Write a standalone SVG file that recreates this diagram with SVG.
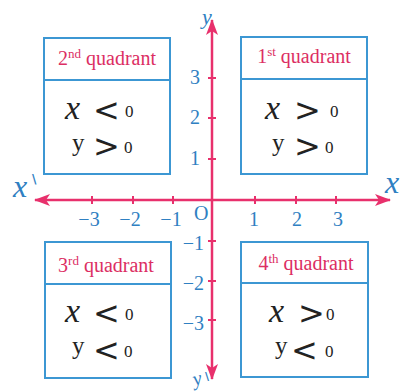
<svg xmlns="http://www.w3.org/2000/svg" width="412" height="391" viewBox="0 0 412 391">
<defs>
<style>
.box{fill:#fff;stroke:#3c97d3;stroke-width:2}
.div{stroke:#3c97d3;stroke-width:2}
.title{font-family:"Liberation Serif",serif;font-size:20px;fill:#dc2e63;text-anchor:middle}
.mx{font-family:"Liberation Serif",serif;font-style:italic;font-size:34px;fill:#222}
.my{font-family:"Liberation Serif",serif;font-size:25px;fill:#222}
.op{font-family:"DejaVu Sans",sans-serif;font-size:32px;fill:#222}
.zero{font-family:"Liberation Serif",serif;font-size:17px;fill:#222}
.num{font-family:"Liberation Serif",serif;font-size:20px;fill:#2f80c2}
.axl{font-family:"Liberation Serif",serif;font-style:italic;fill:#2f80c2}
.prime{font-family:"DejaVu Sans",sans-serif;font-weight:bold;fill:#2f80c2}
.axis{stroke:#e8306c;stroke-width:2.5;fill:none}
.tick{stroke:#e8306c;stroke-width:2}
</style>
<marker id="ah" viewBox="0 0 16 12" refX="15" refY="6" markerWidth="16" markerHeight="12" markerUnits="userSpaceOnUse" orient="auto">
<path d="M0,0 L16,6 L0,12 L4,6 Z" fill="#e8306c"/>
</marker>
</defs>
<rect width="412" height="391" fill="#fff"/>

<g id="connectors">
<line class="axis" x1="212" y1="200" x2="35" y2="200" marker-end="url(#ah)"/>
<line class="axis" x1="212" y1="200" x2="390" y2="200" marker-end="url(#ah)"/>
<line class="axis" x1="212" y1="200" x2="212" y2="20" marker-end="url(#ah)"/>
<line class="axis" x1="212" y1="200" x2="212" y2="379" marker-end="url(#ah)"/>
<g class="tick">
<line x1="92" y1="196" x2="92" y2="204"/>
<line x1="133" y1="196" x2="133" y2="204"/>
<line x1="173" y1="196" x2="173" y2="204"/>
<line x1="255" y1="196" x2="255" y2="204"/>
<line x1="296" y1="196" x2="296" y2="204"/>
<line x1="336" y1="196" x2="336" y2="204"/>
<line x1="208" y1="78" x2="216" y2="78"/>
<line x1="208" y1="118" x2="216" y2="118"/>
<line x1="208" y1="159" x2="216" y2="159"/>
<line x1="208" y1="241" x2="216" y2="241"/>
<line x1="208" y1="281" x2="216" y2="281"/>
<line x1="208" y1="320" x2="216" y2="320"/>
</g>
</g>

<g id="axis-labels">
<text class="axl" x="13" y="197" font-size="32">x</text>
<text class="prime" x="32" y="183" font-size="12">\</text>
<text class="axl" x="385" y="193" font-size="32">x</text>
<text class="axl" x="202" y="24" font-size="22" font-style="normal">y</text>
<text class="axl" x="193" y="385" font-size="20" font-style="normal" transform="rotate(-15 198 380)">y</text>
<text class="prime" x="205" y="380" font-size="11">\</text>
<text class="num" x="194" y="220">O</text>
<g class="num" text-anchor="middle">
<text x="89" y="226">−3</text>
<text x="130" y="226">−2</text>
<text x="171" y="226">−1</text>
<text x="254" y="226">1</text>
<text x="297" y="226">2</text>
<text x="338" y="226">3</text>
</g>
<g class="num" text-anchor="end">
<text x="200" y="84">3</text>
<text x="200" y="124">2</text>
<text x="200" y="165">1</text>
<text x="204" y="250">−1</text>
<text x="204" y="290">−2</text>
<text x="204" y="330">−3</text>
</g>
</g>

<g id="q2">
<rect class="box" x="44" y="38" width="126" height="136"/>
<line class="div" x1="44" y1="80" x2="170" y2="80"/>
<text class="title" x="107" y="65">2<tspan font-size="13" dy="-7">nd</tspan><tspan dy="7"> quadrant</tspan></text>
<text class="mx" x="65" y="119">x</text><text class="op" x="93" y="121">&lt;</text><text class="zero" x="125" y="117">0</text>
<text class="my" x="72" y="151">y</text><text class="op" x="93" y="157">&gt;</text><text class="zero" x="124" y="153">0</text>
</g>

<g id="q1">
<rect class="box" x="241" y="37" width="126" height="137"/>
<line class="div" x1="241" y1="79" x2="367" y2="79"/>
<text class="title" x="304" y="63">1<tspan font-size="13" dy="-7">st</tspan><tspan dy="7"> quadrant</tspan></text>
<text class="mx" x="265" y="119">x</text><text class="op" x="294" y="121">&gt;</text><text class="zero" x="330" y="117">0</text>
<text class="my" x="272" y="151">y</text><text class="op" x="294" y="157">&gt;</text><text class="zero" x="325" y="153">0</text>
</g>

<g id="q3">
<rect class="box" x="45" y="242" width="126" height="136"/>
<line class="div" x1="45" y1="284" x2="171" y2="284"/>
<text class="title" x="106" y="272">3<tspan font-size="13" dy="-7">rd</tspan><tspan dy="7"> quadrant</tspan></text>
<text class="mx" x="65" y="322">x</text><text class="op" x="93" y="324">&lt;</text><text class="zero" x="125" y="320">0</text>
<text class="my" x="72" y="354">y</text><text class="op" x="93" y="361">&lt;</text><text class="zero" x="124" y="357">0</text>
</g>

<g id="q4">
<rect class="box" x="241" y="242" width="127" height="135"/>
<line class="div" x1="241" y1="283" x2="368" y2="283"/>
<text class="title" x="306" y="270">4<tspan font-size="13" dy="-7">th</tspan><tspan dy="7"> quadrant</tspan></text>
<text class="mx" x="269" y="322">x</text><text class="op" x="298" y="324">&gt;</text><text class="zero" x="326" y="320">0</text>
<text class="my" x="275" y="354">y</text><text class="op" x="291" y="361">&lt;</text><text class="zero" x="325" y="357">0</text>
</g>
</svg>
